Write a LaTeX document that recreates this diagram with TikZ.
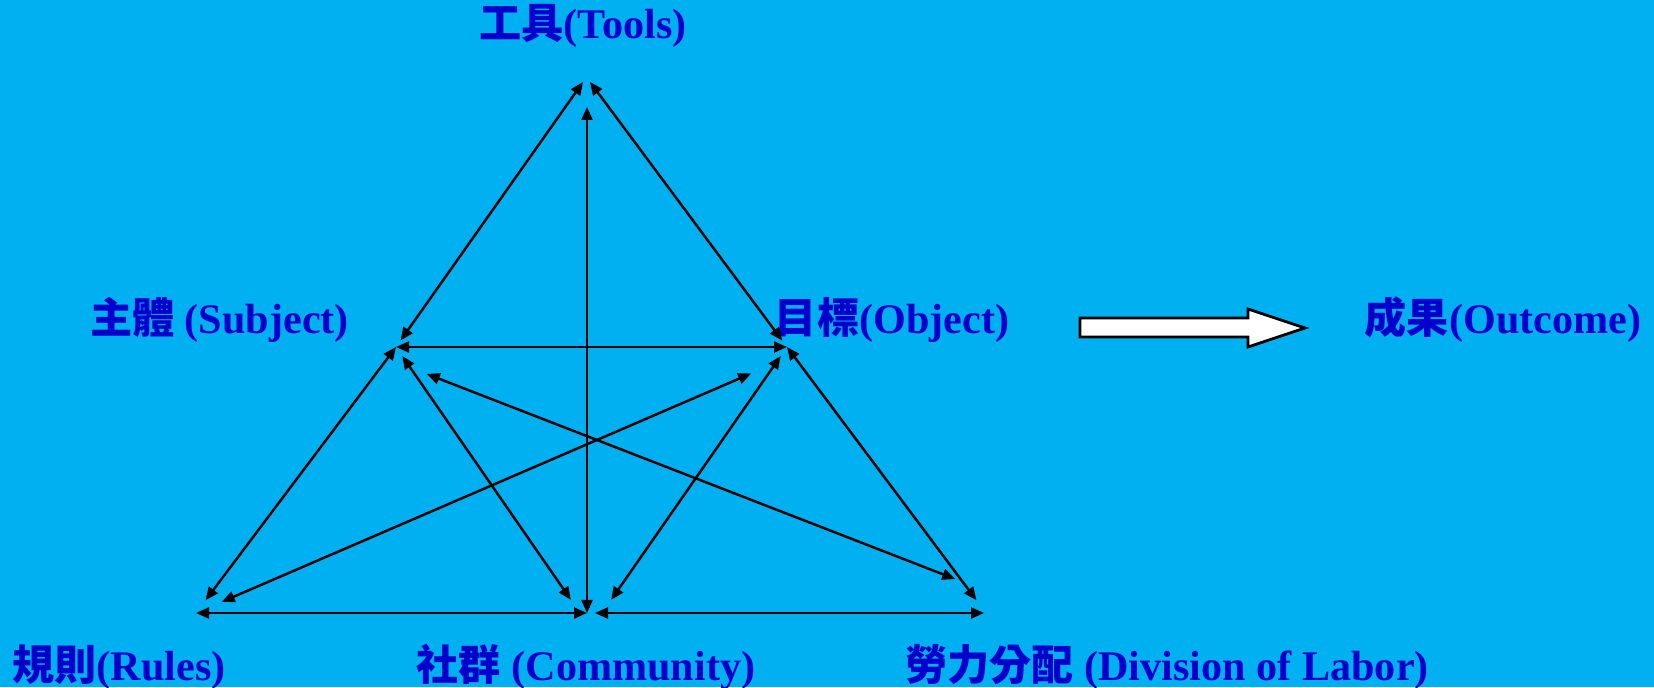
\documentclass[tikz,border=0pt]{standalone}
\usepackage{fontspec}
\setmainfont{Liberation Serif}
\newfontfamily\cjk{Noto Sans CJK TC}
\usepackage{tikz}
\usetikzlibrary{arrows.meta,calc}
\definecolor{actbg}{HTML}{00B0F0}
\definecolor{actblue}{HTML}{0000CC}

\begin{document}
\begin{tikzpicture}[
  lab/.style={font=\fontsize{12}{14}\selectfont\bfseries, text=actblue, anchor=base, inner sep=0pt},
  arr/.style={{Triangle[length=1.3mm,width=1.1mm]}-{Triangle[length=1.3mm,width=1.1mm]}, line width=0.7pt, draw=black},
  bigarr/.style={draw=black, fill=white, line width=0.8pt, line join=miter},
]
\useasboundingbox (0,0) rectangle (16.54,6.87);
\fill[actbg] (0,0) rectangle (16.54,6.87);

% corners of the activity triangle
\coordinate (tools) at (5.87,6.05);
\coordinate (subj)  at (3.96,3.40);
\coordinate (obj)   at (7.87,3.40);
\coordinate (rules) at (1.96,0.74);
\coordinate (comm)  at (5.87,0.74);
\coordinate (div)   at (9.86,0.74);

\node[lab] (ltools) at (5.83,6.48)  {{\cjk 工具}(Tools)};
\node[lab] (lsubj)  at (2.195,3.53) {{\cjk 主體} (Subject)};
\node[lab] (lobj)   at (8.92,3.53)  {{\cjk 目標}(Object)};
\node[lab] (lout)   at (15.03,3.53) {{\cjk 成果}(Outcome)};
\node[lab] (lrules) at (1.19,0.06)  {{\cjk 規則}(Rules)};
\node[lab] (lcomm)  at (5.86,0.06)  {{\cjk 社群} (Community)};
\node[lab] (ldiv)   at (11.67,0.06) {{\cjk 勞力分配} (Division of Labor)};

\draw[arr, shorten >=0.8mm] ([xshift=-0.4mm]tools) -- (subj);
\draw[arr, shorten >=0.8mm] ([xshift=0.3mm]tools) -- (obj);
\draw[arr, shorten <=2.5mm] (tools) -- (comm);
\draw[arr] (subj) -- (obj);
\draw[arr, shorten >=1.6mm] (subj) -- (rules);
\draw[arr, shorten >=1.6mm] (obj) -- (div);
\draw[arr, shorten <=1.1mm, shorten >=1.6mm] (subj) -- ([xshift=-0.7mm]comm);
\draw[arr, shorten <=1.1mm, shorten >=1.6mm] (obj) -- ([xshift=1.5mm]comm);
\draw[arr, shorten <=2.8mm, shorten >=3.9mm] (rules) -- ([yshift=-1.1mm]obj);
\draw[arr, shorten <=3.3mm, shorten >=3.3mm] ([yshift=-1.5mm]subj) -- ([yshift=2.2mm]div);
\draw[arr] (rules) -- (comm);
\draw[arr, shorten <=0.8mm, shorten >=0.2mm] (comm) -- (div);

% outcome arrow
\draw[bigarr] (10.80,3.50) -- (10.80,3.69) -- (12.48,3.69) -- (12.48,3.78)
  -- (13.05,3.59) -- (12.48,3.40) -- (12.48,3.50) -- cycle;
\end{tikzpicture}
\end{document}
